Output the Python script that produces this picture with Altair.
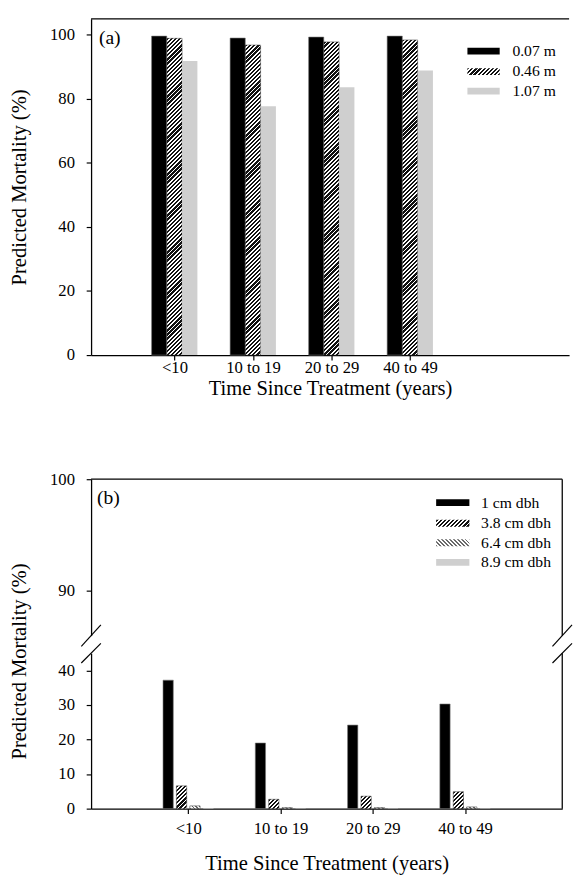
import json
import math
import altair as alt
import pandas as pd

# ---------------- data ----------------
categories = ["<10", "10 to 19", "20 to 29", "40 to 49"]

series_a = ["0.07 m", "0.46 m", "1.07 m"]
mort_a_007 = [99.6, 99.0, 99.3, 99.6]
mort_a_046 = [98.9, 96.8, 97.8, 98.4]
mort_a_107 = [91.8, 77.7, 83.6, 88.9]

series_b = ["1 cm dbh", "3.8 cm dbh", "6.4 cm dbh", "8.9 cm dbh"]
mort_b_1 = [37.2, 19.0, 24.2, 30.3]
mort_b_38 = [6.6, 2.7, 3.6, 4.9]
mort_b_64 = [0.8, 0.3, 0.3, 0.5]
mort_b_89 = [0.15, 0.1, 0.1, 0.1]

yticks_a = [0, 20, 40, 60, 80, 100]
yticks_b_top = [90, 100]
yticks_b_bottom = [0, 10, 20, 30, 40]

panel_labels = ["(a)", "(b)"]
x_title = "Time Since Treatment (years)"
y_title = "Predicted Mortality (%)"

FONT = "Liberation Serif"

# ---------------- geometry / styles ----------------
A_W, A_H = 489, 344
A_STEP = 82.0
A_XDOM = [0, A_W / A_STEP]
A_YDOM = [0, 105]
A_PPU = A_H / (A_YDOM[1] - A_YDOM[0])
A_BAR = 15.5
A_OFFS = [-16, 0, 16]
A_STYLES = ["solid", "dark", "dots"]

B_W = 482
B_XDOM = [0, 5]
B_STEP = B_W / 5.0
B_TOP_H, B_TOP_DOM = 160, [86, 100]
B_BOT_H, B_BOT_DOM = 159, [0, 45]
B_PPU = B_BOT_H / (B_BOT_DOM[1] - B_BOT_DOM[0])
B_BAR = 10.5
B_OFFS = [-21, -7, 7, 21]
B_STYLES = ["solid", "dark", "light", "dots"]


def long_df(names, value_lists):
    rows = []
    for s_i, (s, vals) in enumerate(zip(names, value_lists)):
        for c_i, (c, v) in enumerate(zip(categories, vals)):
            rows.append({"cat": c, "pos": c_i + 1, "series": s, "sidx": s_i, "value": v})
    return pd.DataFrame(rows)


df_a = long_df(series_a, [mort_a_007, mort_a_046, mort_a_107])
df_b = long_df(series_b, [mort_b_1, mort_b_38, mort_b_64, mort_b_89])


def hatch(w, h, period, frac, c_on, c_off, direction="/"):
    """Diagonal hatch drawn as a hard-stop linear gradient (45 degrees in pixels)."""
    w = max(float(w), 0.5)
    h = max(float(h), 0.5)
    total = w + h
    n = int(math.ceil(total / period))
    stops = []
    for i in range(n):
        o0 = round(min(i * period / total, 1.0), 5)
        om = round(min((i + frac) * period / total, 1.0), 5)
        o1 = round(min((i + 1) * period / total, 1.0), 5)
        stops += [
            {"offset": o0, "color": c_on},
            {"offset": om, "color": c_on},
            {"offset": om, "color": c_off},
            {"offset": o1, "color": c_off},
        ]
    k = total / (w * w + h * h)
    if direction == "/":
        x1, y1, x2, y2 = 0, 0, w * k, h * k
    else:
        x1, y1, x2, y2 = 0, 1, w * k, 1 - h * k
    return {"gradient": "linear", "x1": x1, "y1": y1, "x2": x2, "y2": y2, "stops": stops}


def fills(style, w, h):
    if style == "solid":
        return ["black"]
    if style == "dark":
        return [hatch(w, h, 4.2, 0.55, "#111111", "#ffffff", "/")]
    if style == "light":
        return [hatch(w, h, 4.0, 0.45, "#6a6a6a", "#ffffff", "\\")]
    return ["#cfcfcf"]


label_expr = "[" + ",".join(json.dumps(c) for c in categories) + "][datum.value - 1]"


def bar_layers(df, names, styles, x_enc, y_enc, bar_w, offs_px, step_px, ppu, clip=False):
    layers = []
    for s_i, (s, style) in enumerate(zip(names, styles)):
        off_units = offs_px[s_i] / step_px
        base = alt.Chart(df).transform_filter(alt.datum.series == s).transform_calculate(
            xpos=f"datum.pos + ({off_units})"
        )
        if style == "solid":
            layers.append(
                base.mark_bar(size=bar_w, fill="black", stroke="#777777", strokeWidth=0.6, clip=clip)
                .encode(x=x_enc, y=y_enc)
            )
            continue
        if style == "dots":
            layers.append(
                base.mark_bar(size=bar_w, fill=fills(style, 1, 1)[0], clip=clip)
                .encode(x=x_enc, y=y_enc)
            )
            continue
        vals = df[df.series == s].value.tolist()
        for c, v in zip(categories, vals):
            for f in fills(style, bar_w, v * ppu):
                layers.append(
                    base.transform_filter(alt.datum.cat == c)
                    .mark_bar(size=bar_w, fill=f, clip=clip, stroke="#333333", strokeWidth=0.5)
                    .encode(x=x_enc, y=y_enc)
                )
    return layers


def legend_layers(names, styles, sw_x0, sw_x1, text_x, row_ys, sw_h):
    layers = []
    for name, style, yc in zip(names, styles, row_ys):
        for f in fills(style, sw_x1 - sw_x0, sw_h):
            layers.append(
                alt.Chart(alt.Data(values=[{"label": name}]))
                .mark_rect(fill=f)
                .encode(
                    x=alt.value(sw_x0), x2=alt.value(sw_x1),
                    y=alt.value(yc - sw_h / 2), y2=alt.value(yc + sw_h / 2),
                )
            )
        layers.append(
            alt.Chart(alt.Data(values=[{"label": name}]))
            .mark_text(font=FONT, fontSize=16, align="left", baseline="middle", color="black")
            .encode(x=alt.value(text_x), y=alt.value(yc), text="label:N")
        )
    return layers


def rule(x, x2, y, y2, width=1.3, color="black"):
    return (
        alt.Chart(alt.Data(values=[{"r": 1}]))
        .mark_rule(color=color, strokeWidth=width, clip=False)
        .encode(x=alt.value(x), x2=alt.value(x2), y=alt.value(y), y2=alt.value(y2))
    )


def label_text(txt, x, y):
    return (
        alt.Chart(alt.Data(values=[{"t": txt}]))
        .mark_text(font=FONT, fontSize=20, align="left", baseline="middle", color="black")
        .encode(x=alt.value(x), y=alt.value(y), text="t:N")
    )


# ---------------- panel (a) ----------------
xa = alt.X(
    "xpos:Q",
    scale=alt.Scale(domain=A_XDOM, nice=False, zero=False),
    axis=alt.Axis(values=[1, 2, 3, 4], labelExpr=label_expr, title=x_title,
                  labelPadding=0, titlePadding=2),
)
ya = alt.Y(
    "value:Q",
    scale=alt.Scale(domain=A_YDOM, nice=False),
    axis=alt.Axis(values=yticks_a, title=y_title, labelPadding=12, titleX=-73,
                  titleBaseline="middle"),
)

panel_a = alt.layer(
    *bar_layers(df_a, series_a, A_STYLES, xa, ya, A_BAR, A_OFFS, A_STEP, A_PPU),
    rule(0, A_W, 0, 0),
    label_text(panel_labels[0], 8, 20),
    *legend_layers(series_a, A_STYLES, 385, 418, 431, [33, 54, 74], 7),
).properties(width=A_W, height=A_H)

# ---------------- panel (b) ----------------
xb_top = alt.X("xpos:Q", scale=alt.Scale(domain=B_XDOM, nice=False, zero=False), axis=None)
yb_top = alt.Y(
    "value:Q",
    scale=alt.Scale(domain=B_TOP_DOM, nice=False, zero=False),
    axis=alt.Axis(values=yticks_b_top, title=None, labelPadding=12),
)
top_bars = (
    alt.Chart(df_b)
    .transform_calculate(xpos="datum.pos")
    .mark_bar(size=B_BAR, fill="black", clip=True)
    .encode(x=xb_top, y=yb_top)
)
panel_b_top = alt.layer(
    top_bars,
    rule(0, B_W, 0, 0),
    rule(B_W, B_W, 0, B_TOP_H),
    label_text(panel_labels[1], 6, 19),
    *legend_layers(series_b, B_STYLES, 353, 387, 399, [24, 45, 65, 85], 7),
).properties(width=B_W, height=B_TOP_H)

xb = alt.X(
    "xpos:Q",
    scale=alt.Scale(domain=B_XDOM, nice=False, zero=False),
    axis=alt.Axis(values=[1, 2, 3, 4], labelExpr=label_expr, title=x_title,
                  labelPadding=7, titlePadding=17),
)
yb = alt.Y(
    "value:Q",
    scale=alt.Scale(domain=B_BOT_DOM, nice=False),
    axis=alt.Axis(values=yticks_b_bottom, title=y_title, labelPadding=12, titleX=-73,
                  titleY=8, titleBaseline="middle"),
)
panel_b_bot = alt.layer(
    *bar_layers(df_b, series_b, B_STYLES, xb, yb, B_BAR, B_OFFS, B_STEP, B_PPU),
    rule(B_W, B_W, 0, B_BOT_H),
    # axis-break marks
    rule(-10, 10, 10, -10, 1.2),
    rule(-10, 10, -7, -29, 1.2),
    rule(B_W - 10, B_W + 10, 10, -10, 1.2),
    rule(B_W - 10, B_W + 10, -7, -29, 1.2),
).properties(width=B_W, height=B_BOT_H)

panel_b = alt.vconcat(panel_b_top, panel_b_bot, spacing=18, bounds="flush")

chart = (
    alt.vconcat(panel_a, panel_b, spacing=127, bounds="flush")
    .properties(padding={"left": 0, "top": 0, "right": 0, "bottom": 0}, background="white")
    .configure_view(stroke=None)
    .configure_axis(
        grid=False,
        domainColor="black", domainWidth=1.3,
        tickColor="black", tickWidth=1.2, tickSize=5,
        labelFont=FONT, labelFontSize=17, labelColor="black",
        titleFont=FONT, titleFontSize=21, titleFontWeight="normal", titleColor="black",
    )
)

chart.save("out.html", embed_options={"renderer": "svg", "actions": False})
